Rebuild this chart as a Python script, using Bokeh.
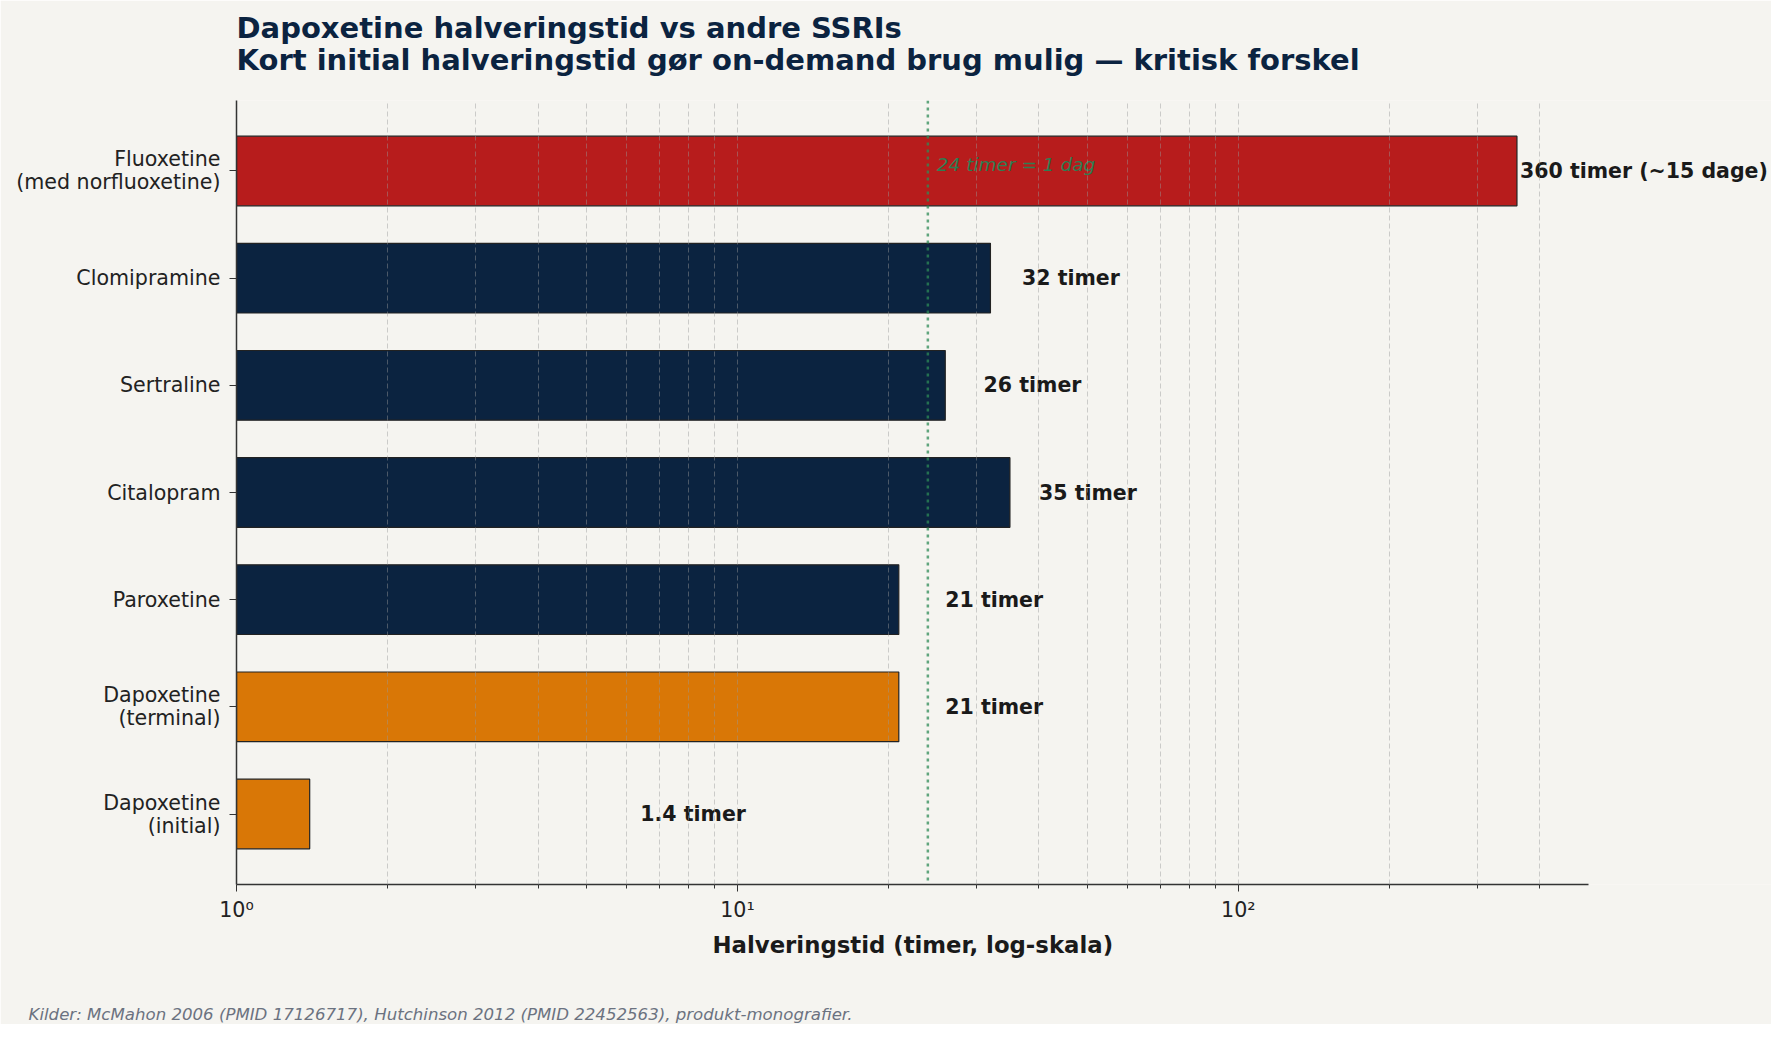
from bokeh.plotting import figure
from bokeh.models import ColumnDataSource, Range1d, FixedTicker, Span, Title, Label
from bokeh.embed import file_html
from bokeh.resources import INLINE

# data (bottom to top, as in the reference)
drugs = [
    "Dapoxetine\n(initial)",
    "Dapoxetine\n(terminal)",
    "Paroxetine",
    "Citalopram",
    "Sertraline",
    "Clomipramine",
    "Fluoxetine\n(med norfluoxetine)",
]
half_lives = [1.4, 21, 21, 35, 26, 32, 360]
value_labels = ["1.4 timer", "21 timer", "21 timer", "35 timer", "26 timer",
                "32 timer", "360 timer (~15 dage)"]
bar_colors = ["#D97706", "#D97706", "#0B2340", "#0B2340", "#0B2340",
              "#0B2340", "#B71C1C"]

ref_hours = 24
ref_text = "24 timer = 1 dag"

x_min, x_max = 1, 500
major_ticks = [1, 10, 100]
tick_labels = ["10\u2070", "10\u00b9", "10\u00b2"]
minor_ticks = [m * 10 ** k for k in range(3) for m in range(2, 10) if m * 10 ** k < x_max]

title = ("Dapoxetine halveringstid vs andre SSRIs\n"
         "Kort initial halveringstid g\u00f8r on-demand brug mulig \u2014 kritisk forskel")
xlabel = "Halveringstid (timer, log-skala)"
footnote = ("Kilder: McMahon 2006 (PMID 17126717), Hutchinson 2012 (PMID 22452563), "
            "produkt-monografier.")

bg = "#F5F4F0"
navy = "#0B2340"
font = "DejaVu Sans"

ypos = list(range(len(drugs)))
src = ColumnDataSource(dict(
    y=ypos,
    left=[x_min] * len(drugs),
    right=half_lives,
    color=bar_colors,
))

# the frame runs on to the right edge so the long value label is not clipped;
# the axis itself stops at x_max
p = figure(width=1771, height=1024, x_axis_type="log",
           x_range=Range1d(x_min, 1160), y_range=Range1d(-0.6575, 6.6575),
           title=None, output_backend="svg", toolbar_location=None,
           min_border_left=236, min_border_right=0,
           min_border_top=100, min_border_bottom=140)
p.background_fill_color = bg
p.border_fill_color = bg
p.outline_line_color = None

p.hbar(y="y", left="left", right="right", height=0.65, fill_color="color",
       line_color="#222222", line_width=1.2, source=src)

# value labels
for v, y, txt in zip(half_lives, ypos, value_labels):
    p.add_layout(Label(x=v + 5, y=y, text=txt, text_align="left",
                       text_baseline="middle", text_font=font,
                       text_font_size="20.5px", text_font_style="bold",
                       text_color="#1a1a1a"))

# 24 h reference
p.add_layout(Span(location=ref_hours, dimension="height", line_color="#2E8B57",
                  line_alpha=0.75, line_width=2.5, line_dash="3 4"))
p.add_layout(Label(x=ref_hours + 1, y=ypos[-1], y_offset=6, text=ref_text,
                   text_font=font, text_font_size="18.5px",
                   text_font_style="italic", text_color="#2E7D52",
                   text_align="left", text_baseline="middle"))

# grid
p.ygrid.grid_line_color = None
p.xgrid.ticker = FixedTicker(ticks=major_ticks + minor_ticks)
p.xgrid.grid_line_color = "#999999"
p.xgrid.grid_line_alpha = 0.45
p.xgrid.grid_line_dash = "5 3"
p.xgrid.grid_line_width = 1
p.xgrid.level = "overlay"

# axes
p.xaxis.bounds = (x_min, x_max)
p.xaxis.ticker = FixedTicker(ticks=major_ticks, minor_ticks=minor_ticks)
p.xaxis.major_label_overrides = dict(zip(major_ticks, tick_labels))
p.yaxis.ticker = FixedTicker(ticks=ypos)
p.yaxis.major_label_overrides = dict(zip(ypos, drugs))

for ax in (p.xaxis[0], p.yaxis[0]):
    ax.axis_line_color = "#333333"
    ax.axis_line_width = 1.5
    ax.major_tick_line_color = "#333333"
    ax.minor_tick_line_color = "#333333"
    ax.major_tick_in = 0
    ax.major_tick_out = 7
    ax.major_label_text_font = font
    ax.major_label_text_font_size = "20.6px"
    ax.major_label_text_color = "#222222"
p.yaxis.minor_tick_line_color = None
p.yaxis.major_label_text_line_height = 0.96
p.xaxis.minor_tick_in = 0
p.xaxis.minor_tick_out = 4
p.xaxis.major_label_standoff = 6
p.yaxis.major_label_standoff = 9

# above: spacer, then the two-line title
p.add_layout(Title(text=" ", text_font_size="10px", standoff=10), "above")
p.add_layout(Title(text=title, align="left", text_font=font, text_font_size="29px",
                   text_font_style="bold", text_color=navy, text_line_height=0.955,
                   standoff=0), "above")

# below: x label (kept under the 1..500 span), spacer, footnote
p.add_layout(Title(text=xlabel, align="left", offset=476, text_font=font,
                   text_font_size="22.8px", text_font_style="bold",
                   text_color="#1a1a1a", standoff=10), "below")
p.add_layout(Title(text=" ", text_font_size="10px", standoff=27), "below")
p.add_layout(Title(text=footnote, align="left", offset=-208, text_font=font,
                   text_font_size="16.6px", text_font_style="italic",
                   text_color="#6B7280", standoff=0), "below")

open("out.html", "w").write(file_html(p, INLINE))
